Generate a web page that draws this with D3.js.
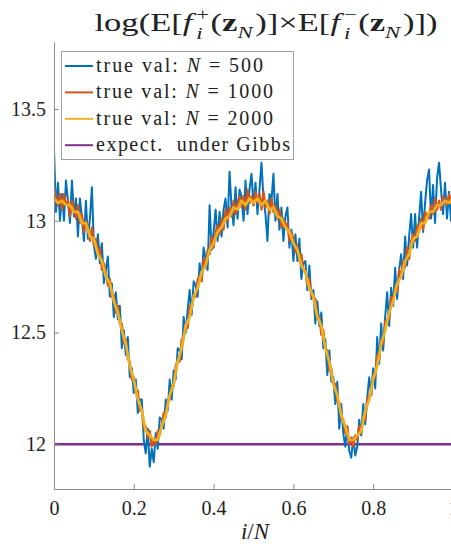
<!DOCTYPE html>
<html>
<head>
<meta charset="utf-8">
<script src="https://cdn.jsdelivr.net/npm/d3@7"></script>
<style>
  body { margin: 0; background: #fff; }
  svg { display: block; }
  svg text { font-family: "Liberation Serif", "DejaVu Serif", serif !important; fill: #222; }
</style>
</head>
<body>
<div id="chart"></div>
<script>
// values
const xTicks = [0, 0.2, 0.4, 0.6, 0.8, 1];
const xTickLabels = ['0', '0.2', '0.4', '0.6', '0.8', '1'];
const yTicks = [12, 12.5, 13, 13.5];
const yTickLabels = ['12', '12.5', '13', '13.5'];
const gibbsLevel = 12;
const legendLabels = ['500', '1000', '2000'];

// N = 500 (201 samples over i/N)
const trueVal500 = [
  13.32, 13.04, 13.17, 13.00, 13.12, 13.00, 13.18, 13.09, 12.99, 13.18,
  13.02, 13.10, 12.93, 13.10, 13.01, 12.91, 13.09, 12.92, 13.01, 13.15,
  12.89, 12.83, 12.94, 12.81, 12.90, 12.72, 12.78, 12.84, 12.66, 12.72,
  12.57, 12.68, 12.56, 12.62, 12.43, 12.51, 12.40, 12.48, 12.30, 12.34,
  12.23, 12.29, 12.14, 12.20, 12.20, 12.02, 11.96, 12.07, 11.90, 11.98,
  11.92, 12.05, 11.98, 12.12, 12.11, 12.07, 12.20, 12.15, 12.29, 12.20,
  12.33, 12.29, 12.43, 12.42, 12.38, 12.57, 12.50, 12.60, 12.69, 12.58,
  12.73, 12.71, 12.66, 12.81, 12.73, 12.88, 12.83, 12.78, 13.07, 12.87,
  12.95, 13.05, 12.91, 13.04, 12.93, 13.05, 13.10, 12.97, 13.22, 13.06,
  12.98, 13.15, 13.01, 13.14, 13.11, 13.00, 13.18, 13.03, 13.14, 13.21,
  13.07, 13.17, 13.03, 13.14, 13.26, 13.10, 13.03, 12.91, 13.12, 13.09,
  13.21, 13.00, 13.12, 12.96, 13.06, 12.91, 13.02, 13.06, 12.88, 12.96,
  12.82, 12.94, 12.82, 12.92, 12.74, 12.81, 12.82, 12.69, 12.80, 12.65,
  12.69, 12.54, 12.64, 12.53, 12.59, 12.43, 12.47, 12.31, 12.42, 12.28,
  12.30, 12.18, 12.28, 12.07, 12.18, 12.05, 11.99, 12.08, 11.97, 11.94,
  12.03, 11.95, 11.99, 12.11, 12.04, 12.18, 12.09, 12.21, 12.30, 12.22,
  12.34, 12.25, 12.48, 12.36, 12.54, 12.42, 12.57, 12.68, 12.53, 12.70,
  12.62, 12.79, 12.65, 12.78, 12.85, 12.74, 12.93, 12.80, 12.93, 13.03,
  12.88, 13.03, 12.88, 13.01, 13.13, 12.95, 13.08, 13.18, 13.23, 13.01,
  13.16, 12.99, 13.19, 13.26, 13.14, 13.03, 13.17, 13.01, 13.13, 13.00,
  13.10
];

// N = 1000
const trueVal1000 = [
  13.15, 13.11, 13.07, 13.12, 13.05, 13.12, 13.07, 13.09, 13.02, 13.09,
  13.06, 13.01, 13.07, 12.99, 13.03, 12.95, 13.00, 12.97, 12.91, 12.97,
  12.89, 12.92, 12.85, 12.88, 12.78, 12.81, 12.77, 12.71, 12.74, 12.66,
  12.67, 12.59, 12.62, 12.54, 12.54, 12.45, 12.47, 12.38, 12.37, 12.29,
  12.30, 12.23, 12.24, 12.15, 12.16, 12.07, 12.08, 12.03, 12.06, 11.99,
  12.02, 12.00, 12.06, 12.04, 12.09, 12.14, 12.12, 12.20, 12.20, 12.26,
  12.26, 12.35, 12.37, 12.37, 12.47, 12.47, 12.54, 12.52, 12.62, 12.61,
  12.67, 12.66, 12.74, 12.75, 12.73, 12.83, 12.79, 12.87, 12.85, 12.93,
  12.88, 12.95, 12.98, 12.94, 13.01, 12.96, 13.05, 13.00, 13.06, 13.02,
  13.09, 13.03, 13.08, 13.11, 13.06, 13.11, 13.05, 13.14, 13.08, 13.11,
  13.07, 13.13, 13.08, 13.12, 13.05, 13.13, 13.06, 13.09, 13.03, 13.10,
  13.04, 13.07, 13.01, 13.05, 12.97, 13.01, 12.97, 12.99, 12.91, 12.95,
  12.92, 12.86, 12.89, 12.82, 12.85, 12.78, 12.78, 12.71, 12.74, 12.66,
  12.66, 12.65, 12.56, 12.57, 12.49, 12.51, 12.43, 12.42, 12.33, 12.34,
  12.27, 12.27, 12.19, 12.19, 12.11, 12.11, 12.05, 12.08, 12.00, 12.03,
  11.99, 12.04, 12.02, 12.08, 12.05, 12.12, 12.11, 12.20, 12.22, 12.22,
  12.31, 12.31, 12.40, 12.38, 12.46, 12.45, 12.55, 12.56, 12.56, 12.66,
  12.64, 12.70, 12.68, 12.78, 12.75, 12.82, 12.79, 12.88, 12.83, 12.91,
  12.94, 12.91, 12.98, 12.95, 13.01, 12.96, 13.04, 13.02, 13.01, 13.07,
  13.03, 13.10, 13.05, 13.09, 13.05, 13.11, 13.09, 13.07, 13.12, 13.08,
  13.11
];

// N = 2000 (101 samples)
const trueVal2000 = [
  13.10, 13.08, 13.09, 13.07, 13.07, 13.04, 13.04, 12.99, 12.99, 12.93,
  12.92, 12.85, 12.82, 12.75, 12.72, 12.64, 12.59, 12.51, 12.45, 12.35,
  12.29, 12.20, 12.15, 12.06, 12.04, 12.02, 12.02, 12.08, 12.13, 12.22,
  12.27, 12.37, 12.43, 12.53, 12.57, 12.66, 12.70, 12.77, 12.80, 12.87,
  12.90, 12.95, 12.97, 13.01, 13.02, 13.06, 13.05, 13.09, 13.07, 13.10,
  13.08, 13.10, 13.07, 13.09, 13.05, 13.06, 13.02, 13.01, 12.97, 12.95,
  12.90, 12.87, 12.80, 12.77, 12.70, 12.66, 12.57, 12.53, 12.43, 12.37,
  12.27, 12.22, 12.13, 12.08, 12.02, 12.02, 12.04, 12.06, 12.15, 12.20,
  12.29, 12.35, 12.45, 12.51, 12.59, 12.64, 12.72, 12.75, 12.82, 12.85,
  12.92, 12.93, 12.99, 12.99, 13.04, 13.04, 13.07, 13.07, 13.09, 13.08,
  13.10
];

const colors = ['#0072BD', '#D95319', '#EDB120', '#7E2F8E'];
const serif = '"Liberation Serif", "DejaVu Serif", serif';

const width = 451, height = 544;
const plot = { left: 54, right: 453, top: 42, bottom: 489 };

const svg = d3.select('#chart').append('svg')
    .attr('width', width)
    .attr('height', height)
    .attr('font-family', serif);

const xScale = d3.scaleLinear().domain([0, 1]).range([plot.left, plot.right]);
const yScale = d3.scaleLinear().domain([11.8, 13.8]).range([plot.bottom, plot.top]);

svg.append('clipPath').attr('id', 'plotClip')
  .append('rect')
    .attr('x', plot.left).attr('y', plot.top)
    .attr('width', plot.right - plot.left)
    .attr('height', plot.bottom - plot.top);

const lines = svg.append('g').attr('clip-path', 'url(#plotClip)');

// horizontal reference: expectation under Gibbs
lines.append('line')
    .attr('x1', xScale(0)).attr('x2', xScale(1))
    .attr('y1', yScale(gibbsLevel)).attr('y2', yScale(gibbsLevel))
    .attr('stroke', colors[3])
    .attr('stroke-width', 2.5);

const series = [trueVal500, trueVal1000, trueVal2000];
const widths = [2, 2.2, 2.8];

series.forEach((values, s) => {
    const n = values.length;
    const line = d3.line()
        .x((d, i) => xScale(i / (n - 1)))
        .y(d => yScale(d));
    lines.append('path')
        .datum(values)
        .attr('fill', 'none')
        .attr('stroke', colors[s])
        .attr('stroke-width', widths[s])
        .attr('stroke-linejoin', 'round')
        .attr('d', line);
});

// axes, ticks pointing inward like matlab
const yAxis = d3.axisLeft(yScale)
    .tickValues(yTicks)
    .tickFormat((d, i) => yTickLabels[i])
    .tickSizeInner(-5)
    .tickSizeOuter(0)
    .tickPadding(8);

const xAxis = d3.axisBottom(xScale)
    .tickValues(xTicks)
    .tickFormat((d, i) => xTickLabels[i])
    .tickSizeInner(-5)
    .tickSizeOuter(0)
    .tickPadding(12);

const gy = svg.append('g')
    .attr('transform', 'translate(' + plot.left + ',0)')
    .call(yAxis);

const gx = svg.append('g')
    .attr('transform', 'translate(0,' + plot.bottom + ')')
    .call(xAxis);

[gx, gy].forEach(g => {
    g.attr('font-family', serif).attr('font-size', 20);
    g.select('.domain').attr('stroke', '#8a8a8a');
    g.selectAll('.tick line').attr('stroke', '#8a8a8a');
    g.selectAll('.tick text')
        .style('font-size', '20px')
        .attr('fill', '#222');
});

// x label  i/N
const xLabel = svg.append('text')
    .attr('x', 255)
    .attr('y', 539)
    .attr('text-anchor', 'middle')
    .style('font-size', '23px');
xLabel.append('tspan').style('font-style', 'italic').text('i');
xLabel.append('tspan').text('/');
xLabel.append('tspan').style('font-style', 'italic').text('N');

// title: log(E[f_i^+(z_N)] x E[f_i^-(z_N)])
const titleParts = [
    { t: 'log(E[' },
    { t: 'f', i: true },
    { stack: [{ t: '+', s: 0.66, dy: -0.42 }, { t: 'i', s: 0.66, dy: 0.3, i: true }] },
    { t: '(' },
    { t: 'z', b: true },
    { t: 'N', s: 0.66, dy: 0.25, i: true },
    { t: ')]\u00d7E[' },
    { t: 'f', i: true },
    { stack: [{ t: '\u2212', s: 0.66, dy: -0.42 }, { t: 'i', s: 0.66, dy: 0.3, i: true }] },
    { t: '(' },
    { t: 'z', b: true },
    { t: 'N', s: 0.66, dy: 0.25, i: true },
    { t: ')])' }
];

function mathText(parent, parts, size) {
    const g = parent.append('g');
    let x = 0;
    function put(p, x0) {
        const t = g.append('text')
            .attr('x', x0)
            .attr('y', (p.dy || 0) * size)
            .style('font-size', (p.s || 1) * size + 'px')
            .style('font-style', p.i ? 'italic' : 'normal')
            .style('font-weight', p.b ? 'bold' : 'normal')
            .text(p.t);
        return t.node().getComputedTextLength();
    }
    parts.forEach(p => {
        if (p.stack) {
            let w = 0;
            p.stack.forEach(q => { w = Math.max(w, put(q, x + 1)); });
            x += w + 2;
        } else {
            x += put(p, x) + (p.i ? 2 : 0);
        }
    });
    return { g: g, width: x };
}

// computer modern is much wider than the fallback serif, so stretch sideways
const title = mathText(svg, titleParts, 26);
const kx = 343 / title.width;
title.g.attr('transform', 'translate(' + (266 - 343 / 2) + ',31) scale(' + kx + ',1)');

// legend
const legendRows = [
    { pre: 'true val: ', math: 'N', post: ' = ' + legendLabels[0], len: 167 },
    { pre: 'true val: ', math: 'N', post: ' = ' + legendLabels[1], len: 177 },
    { pre: 'true val: ', math: 'N', post: ' = ' + legendLabels[2], len: 177 },
    { pre: 'expect.  under Gibbs', math: '', post: '', len: 194 }
];

const legend = svg.append('g');
legend.append('rect')
    .attr('x', 61.5).attr('y', 51.5)
    .attr('width', 232).attr('height', 108)
    .attr('fill', '#fff')
    .attr('stroke', '#a0a0a0');

legendRows.forEach((row, i) => {
    const y = 66 + i * 26.4;
    legend.append('line')
        .attr('x1', 65).attr('x2', 93)
        .attr('y1', y).attr('y2', y)
        .attr('stroke', colors[i])
        .attr('stroke-width', 2);
    const t = legend.append('text')
        .attr('x', 96)
        .attr('y', y + 6)
        .attr('textLength', row.len)
        .attr('lengthAdjust', 'spacing')
        .style('font-size', '20px')
        .style('white-space', 'pre');
    t.append('tspan').text(row.pre);
    if (row.math) {
        t.append('tspan').style('font-style', 'italic').text(row.math);
        t.append('tspan').text(row.post);
    }
});
</script>
</body>
</html>
